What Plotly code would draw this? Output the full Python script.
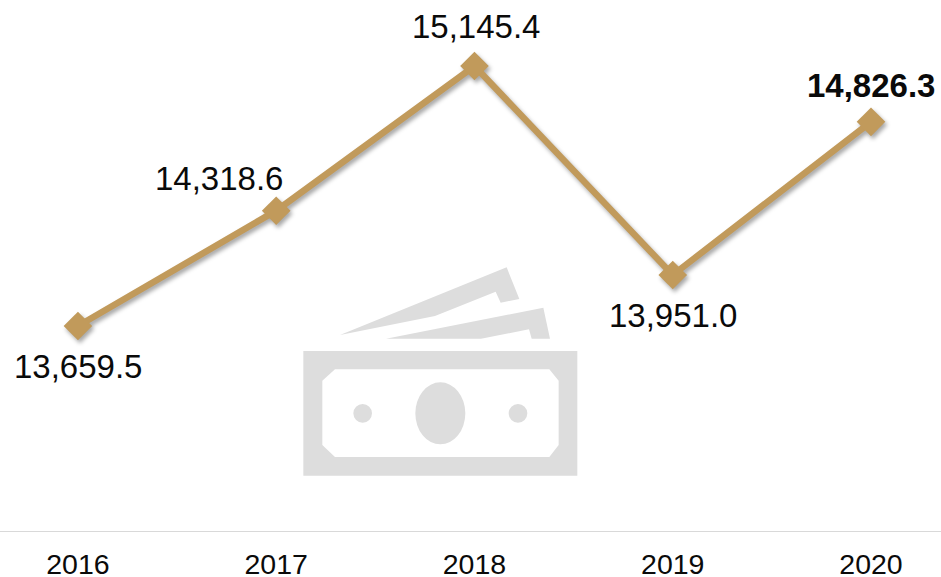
import plotly.graph_objects as go

years = ["2016", "2017", "2018", "2019", "2020"]
values = [13659.5, 14318.6, 15145.4, 13951.0, 14826.3]
labels = ["13,659.5", "14,318.6", "15,145.4", "13,951.0", "<b>14,826.3</b>"]
label_shift_x = [0, -57, 2, 0, 0]
label_shift_y = [-40, 32, 40, -40, 36]

W, H = 941, 577
PLOT_H = 531
GOLD = "#C19A5B"
GREY = "#DDDDDD"
TEXT = "#0A0A0A"


def px(points):
    return "M" + " L".join(f"{x / W:.5f},{1 - y / PLOT_H:.5f}" for x, y in points) + " Z"


def zoomed(points):
    return [(280 + x / 3, 250 + y / 3) for x, y in points]


note_back = zoomed([(180, 255), (680, 52), (718, 147), (662, 158), (647, 125), (465, 198)])
note_mid = zoomed([(318, 266), (790, 173), (810, 266), (755, 266), (747, 238), (603, 266)])
bill_outer = zoomed([(70, 303), (892, 303), (892, 677), (70, 677)])
bill_inner = zoomed([(165, 358), (808, 358), (836, 392), (836, 585), (808, 621),
                     (165, 621), (127, 585), (127, 392)])


def ellipse(cx, cy, rx, ry):
    x0, x1 = (280 + (cx - rx) / 3) / W, (280 + (cx + rx) / 3) / W
    y0, y1 = 1 - (250 + (cy + ry) / 3) / PLOT_H, 1 - (250 + (cy - ry) / 3) / PLOT_H
    return dict(type="circle", xref="paper", yref="paper", x0=x0, x1=x1, y0=y0, y1=y1,
                fillcolor=GREY, line_width=0, layer="below")


def poly(path):
    return dict(type="path", xref="paper", yref="paper", path=path, fillcolor=GREY,
                line_width=0, layer="below")


shapes = [
    poly(px(note_back)),
    poly(px(note_mid)),
    dict(type="path", xref="paper", yref="paper", path=px(bill_outer) + " " + px(bill_inner),
         fillcolor=GREY, line_width=0, layer="below", fillrule="evenodd"),
    ellipse(481, 490, 75, 93),
    ellipse(248, 490, 28, 28),
    ellipse(714, 490, 28, 28),
]

fig = go.Figure(go.Scatter(
    x=years, y=values, mode="lines+markers",
    line=dict(color=GOLD, width=6.5),
    marker=dict(symbol="diamond", size=22, color=GOLD),
    hoverinfo="skip", cliponaxis=False,
))

annotations = [
    dict(x=i, y=values[i], xref="x", yref="y", text=labels[i], showarrow=False,
         xshift=label_shift_x[i], yshift=label_shift_y[i],
         font=dict(family="Liberation Sans", size=33, color=TEXT))
    for i in range(len(years))
]

fig.update_layout(
    width=W, height=H, autosize=False, showlegend=False,
    margin=dict(l=0, r=0, t=0, b=46, pad=0),
    paper_bgcolor="white", plot_bgcolor="white",
    shapes=shapes, annotations=annotations,
    xaxis=dict(type="category", range=[-0.393, 4.353], showgrid=False, zeroline=False,
               showline=True, linecolor="#D9D9D9", linewidth=1, ticks="",
               automargin=False, ticklabelstandoff=8,
               tickfont=dict(family="Liberation Sans", size=28.5, color=TEXT)),
    yaxis=dict(range=[12488, 15522.6], visible=False),
)

page = ("document.body.style.margin='0';"
        "document.querySelectorAll('.scatterlayer .trace').forEach(function(t){"
        "t.style.filter='drop-shadow(2px 3px 2px rgba(0,0,0,0.35))';});")
fig.write_html("out.html", post_script=page, config=dict(displayModeBar=False))
